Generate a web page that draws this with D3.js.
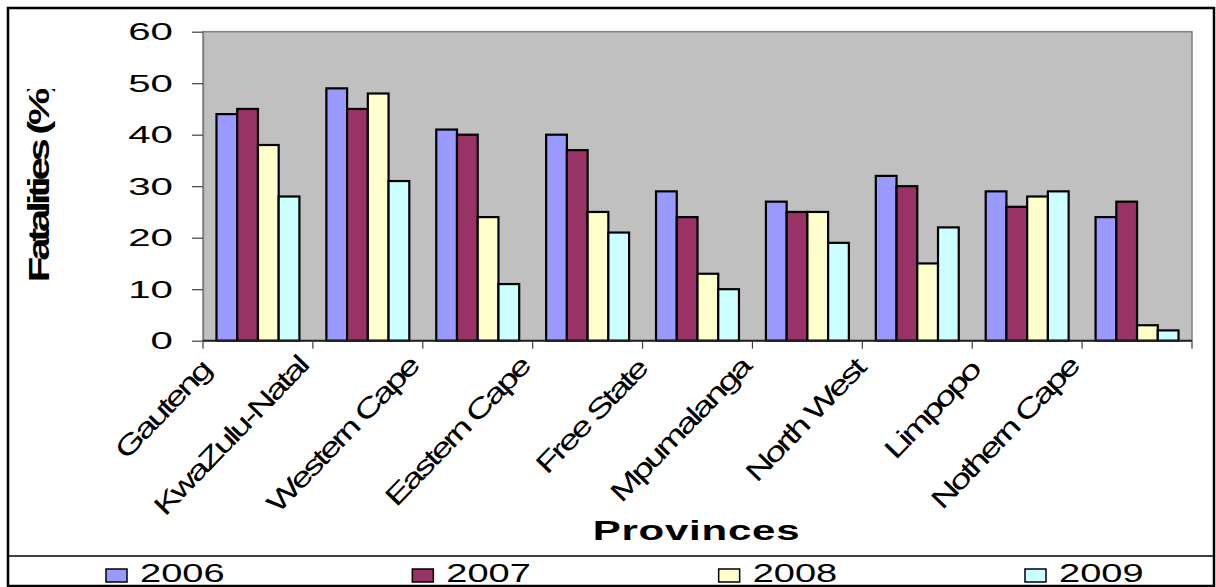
<!DOCTYPE html>
<html>
<head>
<meta charset="utf-8">
<script src="https://cdn.jsdelivr.net/npm/d3@7"></script>
<style>
  body { margin: 0; background: #fff; }
  svg { display: block; }
  text { font-family: Arial, "Liberation Sans", sans-serif; fill: #000; }
</style>
</head>
<body>
<svg id="chart" width="1216" height="587"></svg>
<script>
// data
var provinces = ["Gauteng", "KwaZulu-Natal", "Western Cape", "Eastern Cape", "Free State",
                 "Mpumalanga", "North West", "Limpopo", "Nothern Cape"];
var years = ["2006", "2007", "2008", "2009"];
var v2006 = [44, 49, 41, 40, 29, 27, 32, 29, 24];
var v2007 = [45, 45, 40, 37, 24, 25, 30, 26, 27];
var v2008 = [38, 48, 24, 25, 13, 25, 15, 28, 3];
var v2009 = [28, 31, 11, 21, 10, 19, 22, 29, 2];
var yTicks = [0, 10, 20, 30, 40, 50, 60];
var colors = ["#9999FF", "#993366", "#FFFFCC", "#CCFFFF"];

var series = [v2006, v2007, v2008, v2009];

var svg = d3.select("#chart");
var W = 1216, H = 587;

// plot area
var pLeft = 203, pRight = 1192, pTop = 31.7, pBottom = 340.7;

// outer frame
svg.append("rect")
    .attr("x", 8).attr("y", 8)
    .attr("width", W - 10).attr("height", H - 9)
    .attr("fill", "#fff")
    .attr("stroke", "#000")
    .attr("stroke-width", 2.5);

var x0 = d3.scaleBand()
    .domain(provinces)
    .range([pLeft, pRight])
    .paddingInner(0).paddingOuter(0);

var x1 = d3.scaleBand()
    .domain(years)
    .range([0, x0.bandwidth()])
    .paddingInner(0).paddingOuter(0.65);

var y = d3.scaleLinear()
    .domain([0, 60])
    .range([pBottom, pTop]);

// grey plot background
svg.append("rect")
    .attr("x", pLeft).attr("y", pTop)
    .attr("width", pRight - pLeft).attr("height", pBottom - pTop)
    .attr("fill", "#C0C0C0")
    .attr("stroke", "#808080")
    .attr("stroke-width", 1.5);

// bars
var rows = provinces.map(function(p, i) {
    return { p: p, vals: series.map(function(s, k) { return { year: years[k], v: s[i], k: k }; }) };
});

var groups = svg.append("g").selectAll("g")
    .data(rows)
    .enter().append("g")
    .attr("transform", function(d) { return "translate(" + x0(d.p) + ",0)"; });

groups.selectAll("rect")
    .data(function(d) { return d.vals; })
    .enter().append("rect")
    .attr("x", function(d) { return x1(d.year); })
    .attr("y", function(d) { return y(d.v); })
    .attr("width", x1.bandwidth())
    .attr("height", function(d) { return y(0) - y(d.v); })
    .attr("fill", function(d) { return colors[d.k]; })
    .attr("stroke", "#000")
    .attr("stroke-width", 2.2);

// y axis
var sy = 1.75;
var yAxis = svg.append("g")
    .attr("transform", "translate(" + pLeft + ",0)")
    .call(d3.axisLeft(y).tickValues(yTicks).tickSize(11).tickSizeOuter(0));
yAxis.select(".domain").attr("stroke", "#808080").attr("stroke-width", 1.5);
yAxis.selectAll(".tick line").attr("stroke", "#404040").attr("stroke-width", 1.2);
yAxis.selectAll(".tick text")
    .attr("x", 0).attr("dy", "0.36em")
    .attr("text-anchor", "end")
    .attr("font-size", 23)
    .attr("font-family", "Arial, 'Liberation Sans', sans-serif")
    .attr("transform", "translate(-30,0) scale(" + sy + ",1)");

// x axis line and ticks on the category edges
svg.append("line")
    .attr("x1", pLeft).attr("x2", pRight)
    .attr("y1", y(0)).attr("y2", y(0))
    .attr("stroke", "#202020").attr("stroke-width", 2);

var edges = provinces.map(function(p) { return x0(p); }).concat([pRight]);
svg.append("g").selectAll("line")
    .data(edges)
    .enter().append("line")
    .attr("x1", function(d) { return d; }).attr("x2", function(d) { return d; })
    .attr("y1", y(0)).attr("y2", y(0) + 8)
    .attr("stroke", "#404040").attr("stroke-width", 1.2);

// rotated category labels
svg.append("clipPath").attr("id", "labclip")
    .append("rect").attr("x", 0).attr("y", 353).attr("width", W).attr("height", 200);

var sx = 1.4;
var labels = svg.append("g").attr("clip-path", "url(#labclip)")
    .selectAll("text")
    .data(provinces)
    .enter().append("text")
    .attr("text-anchor", "end")
    .attr("font-size", 27)
    .attr("letter-spacing", -2.2)
    .text(function(d) { return d; });

var baseLen = labels.nodes()[0].getComputedTextLength() * sx;
labels.attr("transform", function(d) {
    var len = this.getComputedTextLength() * sx;
    var ax = x0(d) + 9 - 0.15 * (len - baseLen);
    var ay = 372 - 0.05 * (len - baseLen);
    return "translate(" + ax + "," + ay + ") rotate(-46) scale(" + sx + ",1)";
});

// axis titles
svg.append("text")
    .attr("text-anchor", "middle")
    .attr("font-size", 28)
    .attr("font-weight", "bold")
    .attr("letter-spacing", 0.5)
    .attr("transform", "translate(" + ((pLeft + pRight) / 2 - 1) + ",540) scale(1.5,1)")
    .text("Provinces");

svg.append("clipPath").attr("id", "ytclip")
    .append("rect").attr("x", 0).attr("y", 89).attr("width", 120).attr("height", 300);

svg.append("g").attr("clip-path", "url(#ytclip)")
    .append("text")
    .attr("text-anchor", "middle")
    .attr("font-size", 30)
    .attr("font-weight", "bold")
    .attr("letter-spacing", -3)
    .attr("transform", "translate(49," + ((pTop + pBottom) / 2 - 4) + ") rotate(-90) scale(1.4,1)")
    .text("Fatalities (%)");

// legend strip
svg.append("line")
    .attr("x1", 8).attr("x2", W - 2)
    .attr("y1", 556).attr("y2", 556)
    .attr("stroke", "#000").attr("stroke-width", 1.3);

var legendX = d3.scalePoint()
    .domain(years)
    .range([106, 1025]);

var leg = svg.append("g").selectAll("g")
    .data(years)
    .enter().append("g")
    .attr("transform", function(d) { return "translate(" + legendX(d) + ",0)"; });

leg.append("rect")
    .attr("x", 0).attr("y", 569)
    .attr("width", 21).attr("height", 13)
    .attr("fill", function(d, i) { return colors[i]; })
    .attr("stroke", "#000").attr("stroke-width", 1.5);

leg.append("text")
    .attr("font-size", 25)
    .attr("transform", "translate(34,582) scale(1.52,1)")
    .text(function(d) { return d; });
</script>
</body>
</html>
